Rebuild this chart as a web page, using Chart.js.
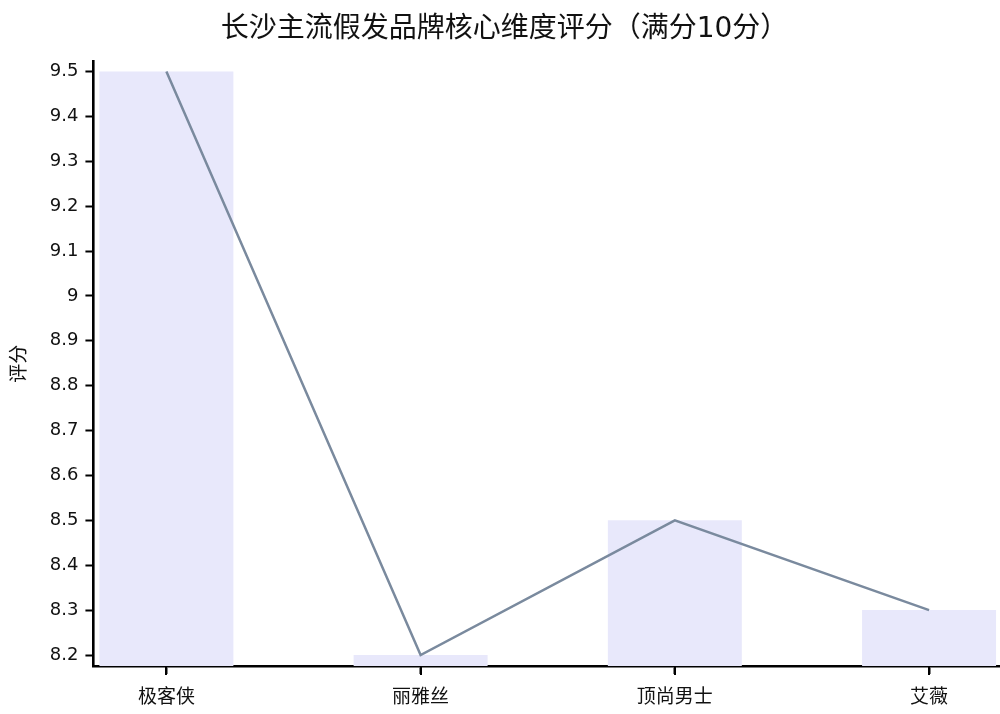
<!DOCTYPE html>
<html lang="zh">
<head>
    <meta charset="utf-8">
    <title>长沙主流假发品牌核心维度评分</title>
    <script src="https://cdn.jsdelivr.net/npm/chart.js"></script>
    <style>
        body { margin: 0; background: #fff; }
        #wrap { width: 1000px; height: 714px; }
    </style>
</head>
<body>
    <div id="wrap"><canvas id="scoreChart"></canvas></div>
    <script>
        // brands and their scores (out of 10)
        const brands = ['极客侠', '丽雅丝', '顶尚男士', '艾薇'];
        const scores = [9.5, 8.2, 8.5, 8.3];
        const yTicks = [8.2, 8.3, 8.4, 8.5, 8.6, 8.7, 8.8, 8.9, 9, 9.1, 9.2, 9.3, 9.4, 9.5];

        const FONT = '"DejaVu Sans", "Noto Sans CJK SC", sans-serif';
        const points = scores.map((v, i) => ({ x: i, y: v }));

        // the x grid ticks don't show up on the linear axis, so draw the marks here
        const xTickMarks = {
            id: 'xTickMarks',
            afterDraw(chart) {
                const s = chart.scales.x;
                const ctx = chart.ctx;
                ctx.save();
                ctx.strokeStyle = '#000';
                ctx.lineWidth = 2;
                s.ticks.forEach(t => {
                    const px = Math.round(s.getPixelForValue(t.value));
                    ctx.beginPath();
                    ctx.moveTo(px, s.top);
                    ctx.lineTo(px, s.top + 9);
                    ctx.stroke();
                });
                ctx.restore();
            }
        };

        new Chart(document.getElementById('scoreChart'), {
            data: {
                datasets: [
                    {
                        type: 'line',
                        data: points,
                        borderColor: '#7a8a9e',
                        borderWidth: 2.5,
                        pointRadius: 0,
                        tension: 0,
                        order: 0
                    },
                    {
                        type: 'bar',
                        data: points,
                        backgroundColor: '#e8e8fb',
                        categoryPercentage: 0.527,
                        barPercentage: 1,
                        order: 1
                    }
                ]
            },
            plugins: [xTickMarks],
            options: {
                responsive: true,
                maintainAspectRatio: false,
                animation: false,
                layout: { padding: { left: 9, right: 0, top: 0, bottom: 0 } },
                plugins: {
                    legend: { display: false },
                    tooltip: { enabled: false },
                    title: {
                        display: true,
                        text: '长沙主流假发品牌核心维度评分（满分10分）',
                        color: '#111',
                        font: { family: FONT, size: 28, weight: 'normal' },
                        padding: { top: 13, bottom: 15 }
                    }
                },
                scales: {
                    x: {
                        type: 'linear',
                        offset: false,
                        min: -0.287,
                        max: 3.279,
                        grid: { offset: false, drawOnChartArea: false, tickLength: 8, tickColor: '#000', tickWidth: 2 },
                        border: { color: '#000', width: 2.6 },
                        afterBuildTicks: s => { s.ticks = brands.map((b, i) => ({ value: i })); },
                        afterFit: s => { s.height = 48; },
                        ticks: {
                            color: '#111',
                            padding: 13,
                            maxRotation: 0,
                            autoSkip: false,
                            font: { family: FONT, size: 19 },
                            callback: v => brands[v]
                        }
                    },
                    y: {
                        min: 8.1755,
                        max: 9.522,
                        grid: { drawOnChartArea: false, tickLength: 8, tickColor: '#000', tickWidth: 2 },
                        border: { color: '#000', width: 2.6 },
                        afterBuildTicks: s => { s.ticks = yTicks.map(v => ({ value: v })); },
                        ticks: {
                            color: '#111',
                            padding: 7,
                            font: { family: FONT, size: 18 },
                            callback: v => String(Math.round(v * 10) / 10)
                        },
                        title: {
                            display: true,
                            text: '评分',
                            color: '#111',
                            font: { family: FONT, size: 19 },
                            padding: { top: 0, bottom: 11 }
                        }
                    }
                }
            }
        });
    </script>
</body>
</html>
